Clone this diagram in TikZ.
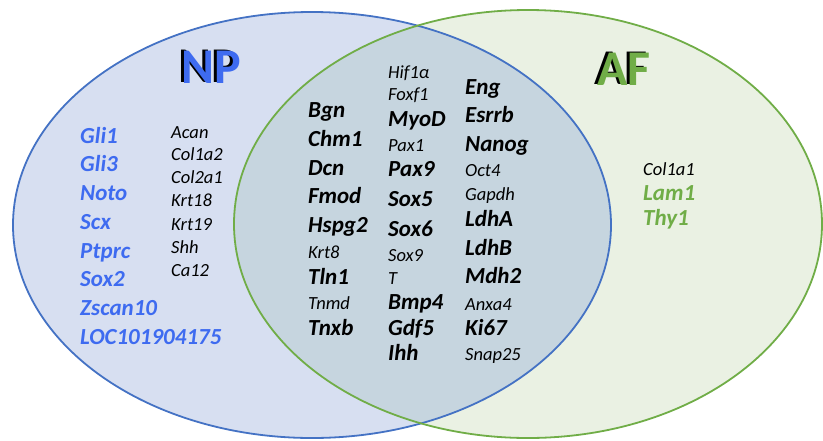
\documentclass[tikz,border=0pt]{standalone}
\usepackage{fontspec}
\usepackage{xcolor}
\usepackage{tikz}
\setmainfont{Carlito}

\definecolor{npline}{HTML}{4472C4}
\definecolor{nptext}{HTML}{3E6BF0}
\definecolor{npfill}{HTML}{D7DFF1}
\definecolor{afline}{HTML}{70AD47}
\definecolor{affill}{HTML}{EAF1E3}
\definecolor{bothfill}{HTML}{C6D5DF}

\newcommand{\shadowtitle}[2]{\rlap{\kern-3pt\raisebox{1pt}{\color{black}#2}}\textcolor{#1}{#2}}

\begin{document}
\begin{tikzpicture}[x=1pt, y=-1pt,
    gene/.style={anchor=west, inner sep=0pt, text height=0.62em, text depth=0pt, font=\fontsize{23}{26}\selectfont\bfseries\itshape},
    minor/.style={anchor=west, inner sep=0pt, text height=0.62em, text depth=0pt, font=\fontsize{18.5}{21}\selectfont\itshape},
    bigtitle/.style={inner sep=0pt, font=\fontsize{50}{56}\selectfont\bfseries}]
    \useasboundingbox (0,0) rectangle (823,440);

    % Venn circles
    \fill[npfill] (312,225) ellipse [x radius=299, y radius=213];
    \fill[affill] (528,224) ellipse [x radius=294, y radius=214];
    \begin{scope}
        \clip (312,225) ellipse [x radius=299, y radius=213];
        \fill[bothfill] (528,224) ellipse [x radius=294, y radius=214];
    \end{scope}
    \draw[npline, line width=1.8pt] (312,225) ellipse [x radius=299, y radius=213];
    \draw[afline, line width=1.8pt] (528,224) ellipse [x radius=294, y radius=214];

    % Titles
    \node[bigtitle] (np) at (211,67) {\shadowtitle{nptext}{NP}};
    \node[bigtitle] (af) at (624,69) {\shadowtitle{afline}{AF}};

    % NP only
    \foreach \g/\y [count=\i] in {Gli1/140, Gli3/168, Noto/197, Scx/226, Ptprc/255, Sox2/283, Zscan10/312, LOC101904175/341}
        \node[gene, nptext] (np-\i) at (80,\y) {\g};
    \foreach \g/\y [count=\i] in {Acan/135, Col1a2/157, Col2a1/180, Krt18/203, Krt19/227, Shh/250, Ca12/273}
        \node[minor] (npk-\i) at (171,\y) {\g};

    % shared
    \foreach \g/\y/\s [count=\i] in {Bgn/114/gene, Chm1/143/gene, Dcn/172/gene, Fmod/200/gene, Hspg2/229/gene,
            Krt8/255/minor, Tln1/281/gene, Tnmd/306/minor, Tnxb/332/gene}
        \node[\s] (both-a\i) at (308,\y) {\g};
    \foreach \g/\y/\s [count=\i] in {Hif1α/75/minor, Foxf1/97/minor, MyoD/123/gene, Pax1/148/minor, Pax9/173/gene,
            Sox5/203/gene, Sox6/233/gene, Sox9/258/minor, T/281/minor, Bmp4/306/gene, Gdf5/332/gene, Ihh/357/gene}
        \node[\s] (both-b\i) at (388,\y) {\g};
    \foreach \g/\y/\s [count=\i] in {Eng/91/gene, Esrrb/119/gene, Nanog/148/gene, Oct4/173/minor, Gapdh/197/minor,
            LdhA/223/gene, LdhB/252/gene, Mdh2/280/gene, Anxa4/307/minor, Ki67/332/gene, Snap25/357/minor}
        \node[\s] (both-c\i) at (465,\y) {\g};

    % AF only
    \node[minor] (af-1) at (643,172) {Col1a1};
    \node[gene, afline] (af-2) at (643,197) {Lam1};
    \node[gene, afline] (af-3) at (643,222) {Thy1};
\end{tikzpicture}
\end{document}
